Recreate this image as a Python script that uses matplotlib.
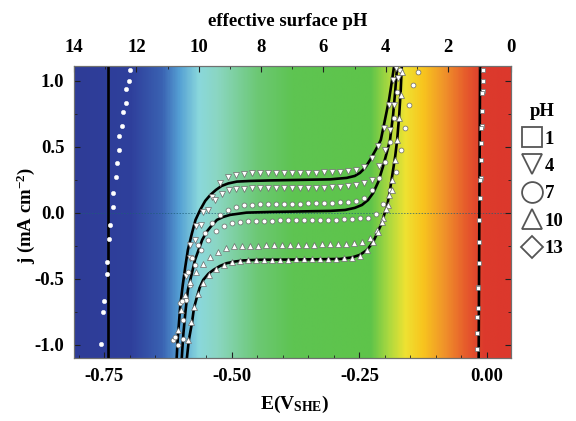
import numpy as np
import matplotlib
matplotlib.use("Agg")
import matplotlib.pyplot as plt
from matplotlib.colors import LinearSegmentedColormap
from matplotlib.lines import Line2D
from matplotlib.ticker import MultipleLocator

plt.rcParams['font.family'] = ['Liberation Serif', 'DejaVu Serif']
plt.rcParams['font.weight'] = 'bold'
plt.rcParams['mathtext.fontset'] = 'custom'
plt.rcParams['mathtext.rm'] = 'Liberation Serif:bold'
plt.rcParams['mathtext.bf'] = 'Liberation Serif:bold'
plt.rcParams['mathtext.it'] = 'Liberation Serif:bold'

# ---------------- data ----------------
ph_legend = ["1", "4", "7", "10", "13"]
x_ticks_E = [-0.75, -0.50, -0.25, 0.00]
x_tick_labels_E = ["-0.75", "-0.50", "-0.25", "0.00"]
y_ticks = [-1.0, -0.5, 0.0, 0.5, 1.0]
y_tick_labels = ["-1.0", "-0.5", "0.0", "0.5", "1.0"]
ph_ticks = [14, 12, 10, 8, 6, 4, 2, 0]

# pH 13 measured points
ph13_E = [-0.700, -0.702, -0.707, -0.708, -0.714, -0.715, -0.720, -0.721, -0.725, -0.727,
          -0.732, -0.733, -0.738, -0.740, -0.744, -0.745, -0.751, -0.752, -0.757]
ph13_j = [1.081, 1.000, 0.935, 0.833, 0.765, 0.657, 0.581, 0.475, 0.379, 0.268,
          0.152, 0.045, -0.093, -0.202, -0.373, -0.467, -0.667, -0.755, -0.997]
fit13_E = [-0.743, -0.743]
fit13_j = [-1.2, 1.2]

# pH 1 measured points
ph1_E = [-0.007, -0.0085, -0.0085, -0.009, -0.010, -0.0105, -0.011, -0.011, -0.012, -0.012,
         -0.013, -0.014, -0.015, -0.016, -0.016, -0.017, -0.018, -0.018, -0.019, -0.019, -0.020]
ph1_j = [1.081, 1.000, 0.924, 0.905, 0.770, 0.657, 0.639, 0.526, 0.399, 0.261,
         0.248, 0.109, -0.055, -0.220, -0.383, -0.561, -0.573, -0.724, -0.788, -0.914, -1.035]
fit1_E = [-0.0165, -0.0135]
fit1_j = [-1.2, 1.2]

# pH 4 measured points (two scan directions)
ph4_E = [-0.582, -0.570, -0.556, -0.539, -0.523, -0.507,
         -0.492, -0.476, -0.460, -0.445, -0.429, -0.413, -0.398, -0.382, -0.366, -0.351,
         -0.335, -0.319, -0.304, -0.288, -0.272, -0.257,
         -0.241, -0.225, -0.214, -0.202, -0.192, -0.184, -0.178,
         -0.589, -0.582, -0.572, -0.560, -0.546, -0.533, -0.519, -0.505,
         -0.492, -0.476, -0.460, -0.445, -0.429, -0.413, -0.398, -0.382, -0.366, -0.351,
         -0.335, -0.319, -0.304, -0.288, -0.272, -0.257, -0.241,
         -0.225, -0.212, -0.200, -0.190, -0.182, -0.174]
ph4_j = [-0.245, -0.101, 0.008, 0.117, 0.225, 0.270,
         0.288, 0.293, 0.297, 0.298, 0.300, 0.301, 0.300, 0.302, 0.300, 0.302,
         0.303, 0.304, 0.305, 0.307, 0.312, 0.322,
         0.346, 0.414, 0.505, 0.642, 0.816, 1.005, 1.096,
         -0.480, -0.343, -0.207, -0.093, 0.020, 0.096, 0.142, 0.168,
         0.176, 0.180, 0.183, 0.184, 0.185, 0.186, 0.186, 0.187, 0.187, 0.188,
         0.189, 0.190, 0.192, 0.195, 0.200, 0.210, 0.228,
         0.248, 0.354, 0.475, 0.627, 0.816, 1.020]

# pH 7 measured points
ph7_E = [-0.586, -0.578, -0.566, -0.552, -0.539, -0.523, -0.507, -0.492,
         -0.476, -0.460, -0.445, -0.429, -0.413, -0.398, -0.382, -0.366, -0.351, -0.335,
         -0.319, -0.304, -0.288, -0.272, -0.257,
         -0.241, -0.225, -0.212, -0.200, -0.190, -0.182, -0.176, -0.170,
         -0.595, -0.589, -0.582, -0.572, -0.560, -0.546, -0.531, -0.515, -0.499,
         -0.484, -0.468, -0.453, -0.437, -0.421, -0.406, -0.390, -0.374, -0.359, -0.343,
         -0.327, -0.312, -0.296, -0.280, -0.264, -0.249, -0.233,
         -0.217, -0.204, -0.190, -0.178, -0.168, -0.161, -0.153, -0.145, -0.135,
         -0.615, -0.611, -0.601, -0.597, -0.605, -0.595]
ph7_j = [-0.449, -0.343, -0.245, -0.154, -0.078, -0.017, 0.020, 0.043,
         0.055, 0.060, 0.063, 0.065, 0.066, 0.067, 0.068, 0.069, 0.070, 0.071,
         0.072, 0.074, 0.077, 0.082, 0.090,
         0.111, 0.172, 0.263, 0.384, 0.536, 0.717, 0.914, 1.081,
         -0.813, -0.661, -0.548, -0.396, -0.283, -0.207, -0.139, -0.101, -0.078,
         -0.070, -0.066, -0.063, -0.061, -0.060, -0.059, -0.058, -0.057, -0.057, -0.056,
         -0.055, -0.054, -0.053, -0.051, -0.048, -0.044, -0.038,
         -0.010, 0.066, 0.172, 0.308, 0.475, 0.642, 0.816, 0.967, 1.066,
         -0.964, -0.942, -0.684, -0.669, -1.002, -0.957]

# pH 10 measured points
ph10_E = [-0.605, -0.599, -0.591, -0.582, -0.570, -0.556, -0.542, -0.527, -0.511, -0.495,
          -0.480, -0.464, -0.449, -0.433, -0.417, -0.402, -0.386, -0.370, -0.355, -0.339,
          -0.323, -0.308, -0.292, -0.276, -0.261, -0.245,
          -0.229, -0.215, -0.204, -0.194, -0.186,
          -0.586, -0.580, -0.574, -0.566, -0.556, -0.544, -0.531, -0.515, -0.499,
          -0.484, -0.468, -0.453, -0.437, -0.421, -0.406, -0.390, -0.374, -0.359, -0.343,
          -0.327, -0.312, -0.296, -0.280, -0.264,
          -0.249, -0.235, -0.223, -0.214, -0.206, -0.198, -0.192, -0.186, -0.180, -0.176,
          -0.172, -0.169, -0.166]
ph10_j = [-0.889, -0.737, -0.624, -0.525, -0.449, -0.389, -0.336, -0.298, -0.267, -0.252,
          -0.255, -0.252, -0.250, -0.248, -0.247, -0.246, -0.245, -0.244, -0.243, -0.242,
          -0.241, -0.240, -0.238, -0.235, -0.230, -0.222,
          -0.192, -0.131, -0.040, 0.058, 0.172,
          -0.964, -0.828, -0.714, -0.616, -0.533, -0.472, -0.427, -0.396, -0.373,
          -0.365, -0.362, -0.360, -0.358, -0.357, -0.356, -0.356, -0.355, -0.355, -0.354,
          -0.353, -0.352, -0.350, -0.347, -0.342,
          -0.325, -0.283, -0.222, -0.146, -0.070, 0.028, 0.134, 0.248, 0.399, 0.551,
          0.717, 0.892, 1.066]

# model fits
fit4_E = [-0.608, -0.606, -0.601, -0.596, -0.591, -0.586, -0.578, -0.571, -0.562, -0.552,
          -0.542, -0.531, -0.520, -0.507, -0.490, -0.464, -0.425, -0.366, -0.307, -0.275,
          -0.259, -0.249, -0.239, -0.229, -0.216, -0.208, -0.200, -0.192, -0.186, -0.182, -0.179]
fit4_j = [-1.105, -0.964, -0.712, -0.548, -0.409, -0.283, -0.156, -0.055, 0.020, 0.089,
          0.134, 0.172, 0.202, 0.221, 0.235, 0.240, 0.244, 0.248, 0.252, 0.263,
          0.278, 0.301, 0.339, 0.399, 0.490, 0.551, 0.702, 0.854, 1.005, 1.111, 1.195]
fit7_E = [-0.598, -0.595, -0.591, -0.586, -0.578, -0.572, -0.565, -0.558, -0.549, -0.540,
          -0.529, -0.517, -0.503, -0.471, -0.425, -0.366, -0.307, -0.278, -0.259, -0.245,
          -0.233, -0.223, -0.213, -0.204, -0.196, -0.190, -0.184, -0.180, -0.176, -0.173]
fit7_j = [-1.105, -0.927, -0.760, -0.586, -0.457, -0.358, -0.283, -0.207, -0.144, -0.101,
          -0.055, -0.033, -0.017, 0.000, 0.005, 0.009, 0.013, 0.020, 0.036, 0.058,
          0.096, 0.149, 0.233, 0.346, 0.460, 0.551, 0.740, 0.914, 1.111, 1.195]
fit10_E = [-0.588, -0.584, -0.578, -0.574, -0.568, -0.563, -0.556, -0.546, -0.536, -0.523,
           -0.510, -0.493, -0.477, -0.445, -0.366, -0.288, -0.264, -0.249, -0.235, -0.223,
           -0.214, -0.206, -0.201, -0.196, -0.191, -0.187, -0.180, -0.176, -0.172, -0.169,
           -0.167, -0.166]
fit10_j = [-1.105, -0.964, -0.836, -0.722, -0.636, -0.570, -0.510, -0.464, -0.434, -0.404,
           -0.383, -0.370, -0.362, -0.357, -0.355, -0.351, -0.339, -0.320, -0.283, -0.222,
           -0.146, -0.078, -0.010, 0.045, 0.149, 0.248, 0.424, 0.551, 0.740, 0.930,
           1.111, 1.195]

# ---------------- figure ----------------
fig = plt.figure(figsize=(5.76, 4.21), dpi=100)
ax = fig.add_axes([0.1285, 0.1485, 0.7578, 0.6948])

# background pH colour gradient
stops = [(0.00, '#2e3c97'), (0.13, '#2f409c'), (0.20, '#3a62b2'), (0.24, '#55a0d4'),
         (0.285, '#8ad8dc'), (0.33, '#8ad6c0'), (0.42, '#6cc874'), (0.50, '#5ec452'),
         (0.68, '#5ec44a'), (0.72, '#a8d840'), (0.76, '#eee232'), (0.80, '#f8c51e'),
         (0.85, '#f0922a'), (0.90, '#e65a2c'), (0.94, '#dc3a2c'), (1.00, '#dc382c')]
cmap = LinearSegmentedColormap.from_list('phbg', stops)
grad = np.linspace(0, 1, 600).reshape(1, -1)
ax.imshow(grad, cmap=cmap, aspect='auto', extent=[0, 1, 0, 1],
          transform=ax.transAxes, zorder=0, interpolation='bilinear')

ax.set_xlim(-0.809, 0.046)
ax.set_ylim(-1.105, 1.111)

ax.axhline(0, color='#1e5f78', lw=0.7, ls=(0, (1.5, 1.5)), alpha=0.7, zorder=1)

line_kw = dict(color='black', lw=1.9, zorder=3, solid_capstyle='round')
for E, j in [(fit13_E, fit13_j), (fit1_E, fit1_j), (fit4_E, fit4_j),
             (fit7_E, fit7_j), (fit10_E, fit10_j)]:
    ax.plot(E, j, **line_kw)

pt_kw = dict(ls='none', mfc='white', mec='#6a6a6a', mew=0.5, zorder=4)
ax.plot(ph1_E, ph1_j, marker='s', ms=3.4, **pt_kw)
ax.plot(ph4_E, ph4_j, marker='v', ms=3.8, **pt_kw)
ax.plot(ph7_E, ph7_j, marker='o', ms=3.5, **pt_kw)
ax.plot(ph10_E, ph10_j, marker='^', ms=3.8, **pt_kw)
ax.plot(ph13_E, ph13_j, marker='o', ms=3.2, ls='none', mfc='white', mec='white', mew=0.3, zorder=4)

# axes formatting
ax.set_xticks(x_ticks_E)
ax.set_xticklabels(x_tick_labels_E)
ax.xaxis.set_minor_locator(MultipleLocator(0.05))
ax.set_yticks(y_ticks)
ax.set_yticklabels(y_tick_labels)
ax.yaxis.set_minor_locator(MultipleLocator(0.25))
ax.tick_params(axis='both', which='both', direction='in', color='#202020')
ax.tick_params(axis='both', which='major', length=4, width=0.8, labelsize=13.5, pad=7)
ax.tick_params(axis='both', which='minor', length=2.5, width=0.6)
ax.tick_params(axis='y', right=True, which='both')
for lab in ax.get_xticklabels() + ax.get_yticklabels():
    lab.set_fontweight('bold')
for s in ax.spines.values():
    s.set_color('#707070')
    s.set_linewidth(0.8)

ax.set_xlabel(r'E(V$_{\mathbf{SHE}}$)', fontsize=14, fontweight='bold')
ax.xaxis.set_label_coords(0.506, -0.122)
ax.set_ylabel(r'j (mA cm$^{-2}$)', fontsize=13.5, fontweight='bold')
ax.yaxis.set_label_coords(-0.085, 0.49)

ax2 = ax.twiny()
ax2.set_xlim(14, 0)
ax2.set_xticks(ph_ticks)
ax2.set_xticklabels([str(t) for t in ph_ticks])
ax2.xaxis.set_minor_locator(MultipleLocator(1))
ax2.tick_params(axis='x', which='both', direction='in', color='#202020')
ax2.tick_params(axis='x', which='major', length=4, width=0.8, labelsize=13.5, pad=7)
ax2.tick_params(axis='x', which='minor', length=2.5, width=0.6)
for lab in ax2.get_xticklabels():
    lab.set_fontweight('bold')
ax2.set_xlabel('effective surface pH', fontsize=13.5, fontweight='bold')
ax2.xaxis.set_label_coords(0.49, 1.135)
for s in ax2.spines.values():
    s.set_color('#707070')
    s.set_linewidth(0.8)

# legend
leg_markers = ['s', 'v', 'o', '^', 'D']
leg_sizes = [15, 15, 15, 15, 11]
handles = [Line2D([], [], ls='none', marker=m, ms=s, mfc='none', mec='#555555', mew=1.3)
           for m, s in zip(leg_markers, leg_sizes)]
leg = fig.legend(handles, ph_legend, title='pH', loc='upper left',
                 bbox_to_anchor=(0.905, 0.755), frameon=False,
                 prop={'weight': 'bold', 'size': 13.5},
                 title_fontproperties={'weight': 'bold', 'size': 13.5},
                 handlelength=1.1, handletextpad=0.15, labelspacing=0.55,
                 borderaxespad=0, borderpad=0)

fig.savefig('out.png', dpi=100)
